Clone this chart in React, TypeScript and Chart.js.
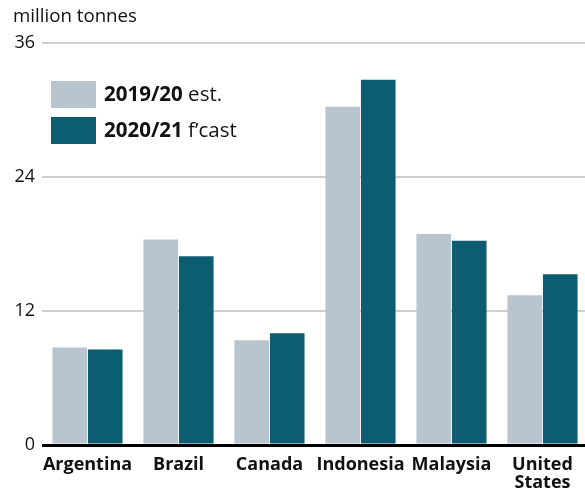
import React, { useEffect, useRef } from "react";
import { Chart, registerables } from "chart.js";

Chart.register(...registerables);

const categories: (string | string[])[] = ["Argentina", "Brazil", "Canada", "Indonesia", "Malaysia", ["United", "States"]];
const est2019: number[] = [8.74, 18.4, 9.37, 30.3, 18.9, 13.4];
const fcast2020: number[] = [8.56, 16.9, 10.0, 32.7, 18.3, 15.3];
const yTicks: number[] = [0, 12, 24, 36];
const unitLabel = "million tonnes";
const legendItems = [
  { bold: "2019/20", rest: " est.", color: "#b8c5ce" },
  { bold: "2020/21", rest: " f\u2019cast", color: "#0c5c72" },
];

const FONT = "'Open Sans', 'Noto Sans', sans-serif";

const overlayPlugin = {
  id: "overlay",
  afterDraw(chart: any) {
    const ctx = chart.ctx;
    ctx.save();
    ctx.fillStyle = "#111";
    ctx.font = `normal 18.7px ${FONT}`;
    ctx.textBaseline = "middle";
    ctx.textAlign = "left";
    ctx.fillText(unitLabel, 13, 17);
    legendItems.forEach((it, i) => {
      const y = 81 + i * 36;
      ctx.fillStyle = it.color;
      ctx.fillRect(51, y, 45, 27);
      ctx.fillStyle = "#111";
      ctx.font = `bold 20.5px ${FONT}`;
      ctx.fillText(it.bold, 104, y + 14);
      const w = ctx.measureText(it.bold).width;
      ctx.font = `normal 20.5px ${FONT}`;
      ctx.fillText(it.rest, 104 + w, y + 14);
    });
    ctx.restore();
  },
};

export default function App() {
  const ref = useRef<HTMLCanvasElement | null>(null);
  useEffect(() => {
    if (!ref.current) return;
    const chart = new Chart(ref.current, {
      type: "bar",
      data: {
        labels: categories as any,
        datasets: [
          { label: legendItems[0].bold + legendItems[0].rest, data: est2019, backgroundColor: legendItems[0].color, borderWidth: 0 },
          { label: legendItems[1].bold + legendItems[1].rest, data: fcast2020, backgroundColor: legendItems[1].color, borderWidth: 0 },
        ],
      },
      options: {
        responsive: false,
        animation: false,
        layout: { padding: { top: 43, right: 2, left: 0, bottom: 0 } },
        plugins: { legend: { display: false }, title: { display: false }, tooltip: { enabled: false } },
        datasets: { bar: { categoryPercentage: 0.78, barPercentage: 0.975 } } as any,
        scales: {
          x: {
            grid: { display: false },
            border: { display: false },
            ticks: {
              color: "#111",
              font: { family: FONT, size: 18, weight: "bold", lineHeight: 1.0 },
              padding: 3,
              maxRotation: 0,
              autoSkip: false,
            },
            afterFit: (s: any) => { s.height = 44; },
          },
          y: {
            min: 0,
            max: 36,
            afterBuildTicks: (s: any) => { s.ticks = yTicks.map((v) => ({ value: v })); },
            grid: {
              drawTicks: false,
              color: (c: any) => (c.tick && c.tick.value === 0 ? "#000" : "#d0d0d0"),
              lineWidth: (c: any) => (c.tick && c.tick.value === 0 ? 3 : 2),
            },
            border: { display: false },
            ticks: { color: "#111", font: { family: FONT, size: 18 }, padding: 7 },
            afterFit: (s: any) => { s.width = 42; },
          },
        },
      },
      plugins: [overlayPlugin],
    });
    return () => chart.destroy();
  }, []);
  return (
    <div style={{ position: "fixed", left: 0, top: 0, width: 590, height: 489, background: "#fff" }}>
      <canvas ref={ref} width={590} height={489} />
    </div>
  );
}
